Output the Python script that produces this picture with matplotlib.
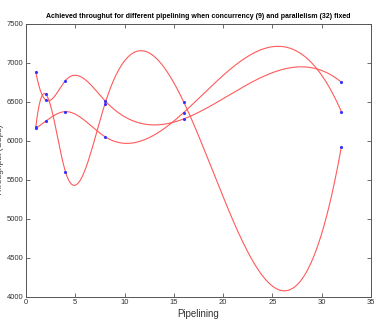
import numpy as np
import matplotlib
matplotlib.use("Agg")
import matplotlib.pyplot as plt

plt.rcParams['font.family'] = ['Liberation Sans', 'DejaVu Sans']

# pipelining values and measured throughput (Gbps) for three runs
pipelining = [1, 2, 4, 8, 16, 32]
run_a = [6180, 6598, 5604, 6469, 6499, 5921]
run_b = [6160, 6251, 6374, 6053, 6362, 6374]
run_c = [6880, 6524, 6772, 6516, 6280, 6752]


def spline_notaknot(x, y, xs):
    # cubic spline with not-a-knot ends (like matlab's spline)
    x = np.asarray(x, float)
    y = np.asarray(y, float)
    n = len(x)
    h = np.diff(x)
    A = np.zeros((n, n))
    r = np.zeros(n)
    for i in range(1, n - 1):
        A[i, i - 1] = h[i - 1]
        A[i, i] = 2 * (h[i - 1] + h[i])
        A[i, i + 1] = h[i]
        r[i] = 6 * ((y[i + 1] - y[i]) / h[i] - (y[i] - y[i - 1]) / h[i - 1])
    A[0, 0], A[0, 1], A[0, 2] = h[1], -(h[0] + h[1]), h[0]
    A[-1, -3], A[-1, -2], A[-1, -1] = h[-1], -(h[-2] + h[-1]), h[-2]
    m = np.linalg.solve(A, r)
    idx = np.clip(np.searchsorted(x, xs) - 1, 0, n - 2)
    x0, x1 = x[idx], x[idx + 1]
    hh = x1 - x0
    t0, t1 = x1 - xs, xs - x0
    return (m[idx] * t0 ** 3 / (6 * hh) + m[idx + 1] * t1 ** 3 / (6 * hh)
            + (y[idx] / hh - m[idx] * hh / 6) * t0
            + (y[idx + 1] / hh - m[idx + 1] * hh / 6) * t1)


fig = plt.figure(figsize=(3.82, 3.27), dpi=100)
ax = fig.add_axes([0.068, 0.093, 0.903, 0.834])

xs = np.linspace(pipelining[0], pipelining[-1], 800)
for run in [run_a, run_b, run_c]:
    ax.plot(xs, spline_notaknot(pipelining, run, xs), color='#ff5a5a', lw=0.8)
    ax.plot(pipelining, run, '.', color='#3333ff', ms=2.5)

ax.set_xlim(0, 35)
ax.set_ylim(4000, 7500)
ax.set_xticks(range(0, 36, 5))
ax.set_yticks(range(4000, 7501, 500))
ax.tick_params(direction='in', top=True, right=True, labelsize=5.5, length=3,
               width=0.6, color='#555555', labelcolor='#333333', pad=2)
for s in ax.spines.values():
    s.set_color('#555555')
    s.set_linewidth(0.7)

ax.set_title('Achieved throughut for different pipelining when concurrency (9) and parallelism (32) fixed',
             fontsize=5, fontweight='bold', pad=4)
ax.set_xlabel('Pipelining', fontsize=7, color='#333333', labelpad=2)
ax.set_ylabel('Throughput (Gbps)', fontsize=6, color='#333333', labelpad=0)
ax.yaxis.set_label_coords(-0.063, 0.5)

fig.savefig('out.png', dpi=100)
